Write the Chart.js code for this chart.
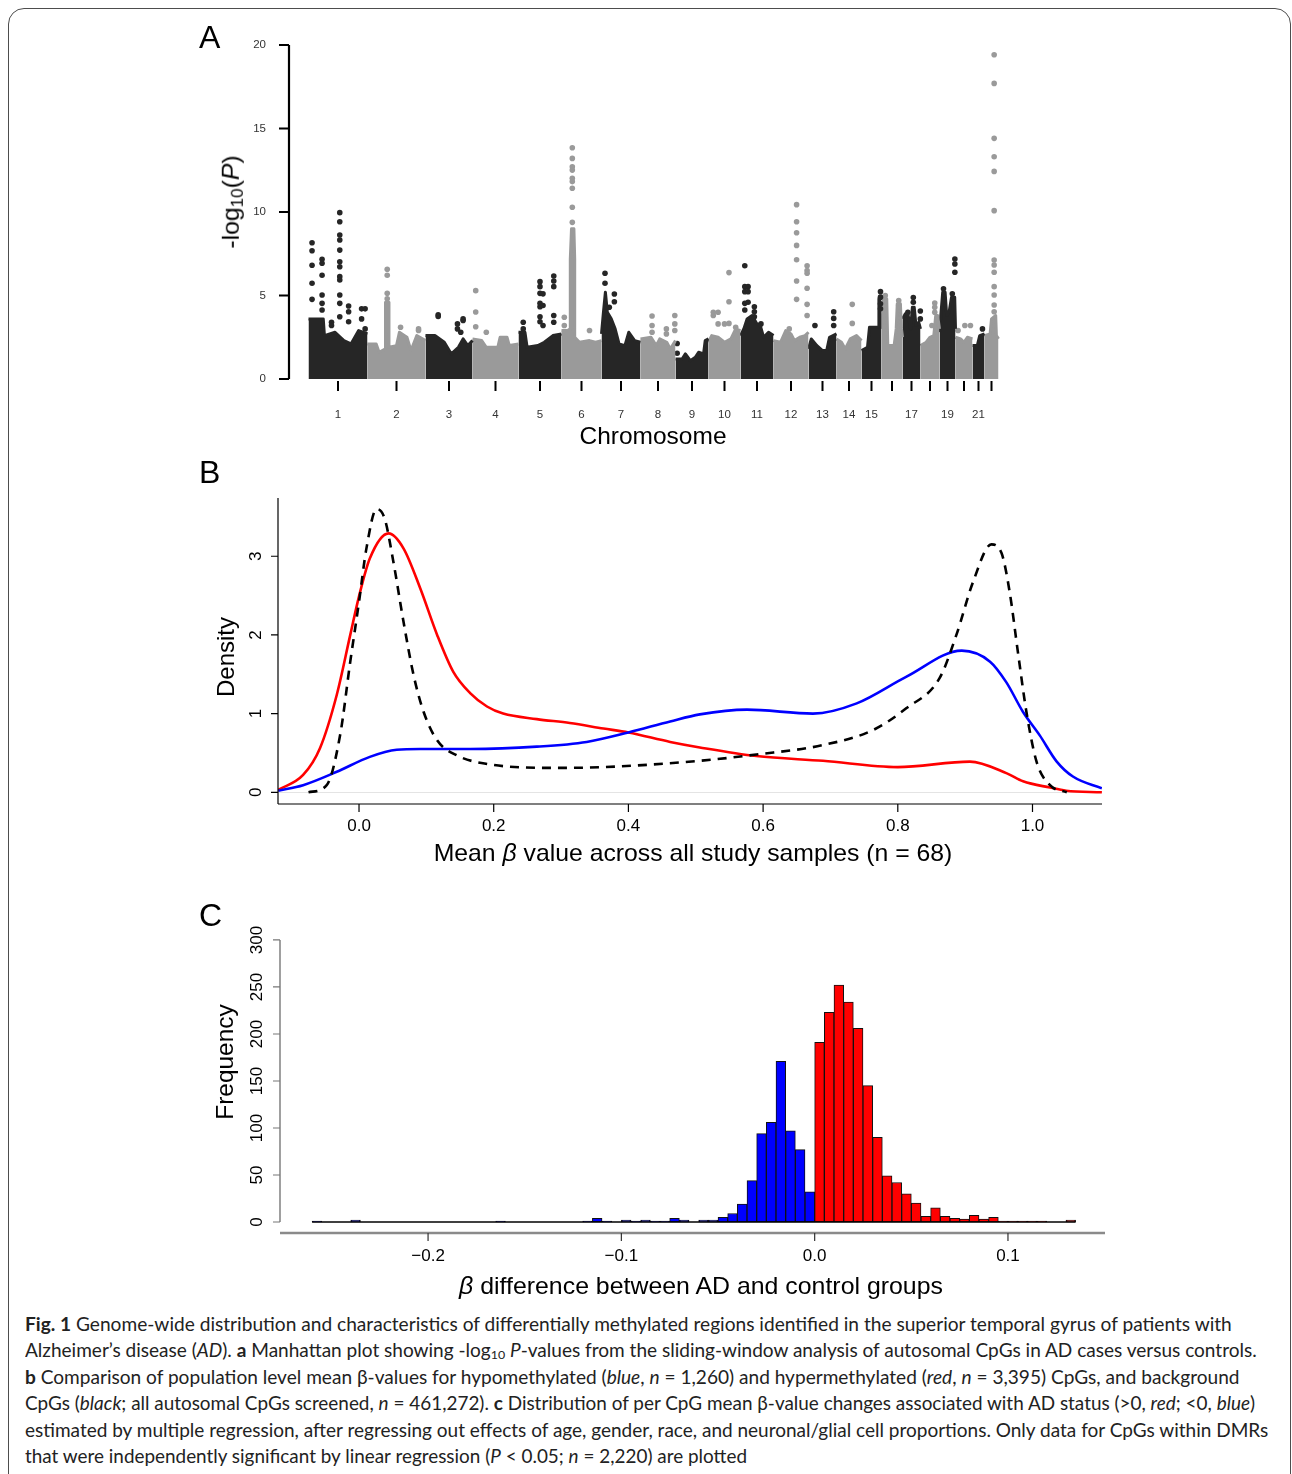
<!DOCTYPE html>
<html>
<head>
<meta charset="utf-8">
<title>Fig. 1</title>
<script src="https://cdn.jsdelivr.net/npm/chart.js@4.4.1/dist/chart.umd.min.js"></script>
<style>
  html, body { margin: 0; padding: 0; background: #fff; }
  body { position: relative; width: 1292px; height: 1474px; overflow: hidden; font-family: "Liberation Sans", Arial, sans-serif; color: #000; }
  .frame { position: absolute; left: 8px; top: 8px; width: 1283px; height: 1500px; border: 1.5px solid #4d4d4d; border-radius: 16px; box-sizing: border-box; }
  canvas { position: absolute; left: 0; }
  .tag { position: absolute; font-size: 32px; line-height: 1; }
  .title { position: absolute; white-space: nowrap; line-height: 1; font-size: 24px; }
  .title sub { font-size: 0.68em; vertical-align: -0.25em; }
  .caption-line { position: absolute; left: 25px; height: 26px; line-height: 26px; white-space: nowrap; font-family: Lato, "Liberation Sans", sans-serif; font-size: 19px; color: #222; transform-origin: left center; }
  .caption-line sub { font-size: 0.65em; vertical-align: -0.2em; line-height: 0; }
</style>
</head>
<body>
<div class="frame"></div>

<canvas id="manhattan" width="1292" height="450" style="top:0"></canvas>
<canvas id="density" width="1292" height="440" style="top:450px"></canvas>
<canvas id="histogram" width="1292" height="420" style="top:890px"></canvas>

<div class="tag" style="left:199px; top:21px">A</div>
<div class="tag" style="left:199px; top:456px">B</div>
<div class="tag" style="left:199px; top:899px">C</div>

<div class="title" data-w="93" data-rot="1" style="left:232px; top:202px">-log<sub>10</sub>(<i>P</i>)</div>
<div class="title" data-w="147" style="left:653px; top:436px">Chromosome</div>
<div class="title" data-w="80" data-rot="1" style="left:226px; top:657px">Density</div>
<div class="title" data-w="519" style="left:693px; top:853px">Mean <i>β</i> value across all study samples (n = 68)</div>
<div class="title" data-w="115" data-rot="1" style="left:225px; top:1062px">Frequency</div>
<div class="title" data-w="484" style="left:701px; top:1286px"><i>β</i> difference between AD and control groups</div>

<div class="caption-line" data-w="1207" style="top:1311px"><b>Fig. 1</b> Genome-wide distribution and characteristics of differentially methylated regions identified in the superior temporal gyrus of patients with</div>
<div class="caption-line" data-w="1232" style="top:1337px">Alzheimer’s disease (<i>AD</i>). <b>a</b> Manhattan plot showing -log<sub>10</sub> <i>P</i>-values from the sliding-window analysis of autosomal CpGs in AD cases versus controls.</div>
<div class="caption-line" data-w="1215" style="top:1364px"><b>b</b> Comparison of population level mean β-values for hypomethylated (<i>blue</i>, <i>n</i> = 1,260) and hypermethylated (<i>red</i>, <i>n</i> = 3,395) CpGs, and background</div>
<div class="caption-line" data-w="1230" style="top:1390px">CpGs (<i>black</i>; all autosomal CpGs screened, <i>n</i> = 461,272). <b>c</b> Distribution of per CpG mean β-value changes associated with AD status (&gt;0, <i>red</i>; &lt;0, <i>blue</i>)</div>
<div class="caption-line" data-w="1243" style="top:1417px">estimated by multiple regression, after regressing out effects of age, gender, race, and neuronal/glial cell proportions. Only data for CpGs within DMRs</div>
<div class="caption-line" data-w="722" style="top:1443px">that were independently significant by linear regression (<i>P</i> &lt; 0.05; <i>n</i> = 2,220) are plotted</div>

<script>
// ---- panel A: sliding-window -log10(P) by chromosome ----
const chromLabels = ['1', '2', '3', '4', '5', '6', '7', '8', '9', '10', '11', '12', '13', '14', '15', '', '17', '', '19', '', '21', ''];
// relative span of each chromosome on the x axis (number of CpG windows)
const chromWidths = [59, 58, 47, 46, 43, 40, 39, 35, 33, 32, 33, 35, 28, 25, 20, 21, 18, 19, 16, 17, 12, 14];

// upper edge of the dense cloud of windows, [fraction along chromosome, -log10 P]
const chromProfiles = [
    [[0, 3.6], [0.25, 3.6], [0.27, 2.6], [0.45, 2.8], [0.6, 2.3], [0.72, 2.1], [0.85, 2.9], [1, 2.7]],
    [[0, 2.1], [0.15, 2.1], [0.2, 1.6], [0.31, 1.8], [0.31, 4.6], [0.37, 4.6], [0.37, 1.9], [0.5, 2.0], [0.55, 2.8], [0.68, 2.5], [0.75, 1.7], [0.85, 2.6], [1, 2.3]],
    [[0, 2.6], [0.2, 2.6], [0.4, 2.2], [0.55, 1.5], [0.7, 1.9], [0.8, 2.4], [0.9, 2.0], [1, 2.3]],
    [[0, 2.4], [0.2, 2.3], [0.3, 1.9], [0.55, 1.9], [0.6, 2.5], [0.75, 2.5], [0.8, 2.0], [1, 2.1]],
    [[0, 2.8], [0.15, 2.8], [0.2, 1.9], [0.45, 2.0], [0.6, 2.2], [0.8, 2.6], [1, 2.7]],
    [[0, 2.9], [0.15, 2.9], [0.22, 3.0], [0.22, 7.2], [0.25, 9.0], [0.31, 9.0], [0.33, 7.2], [0.33, 2.5], [0.45, 2.2], [0.7, 2.3], [0.85, 2.2], [1, 2.3]],
    [[0, 2.7], [0.05, 4.0], [0.1, 5.2], [0.15, 4.0], [0.25, 3.6], [0.35, 3.0], [0.45, 2.1], [0.6, 2.0], [0.7, 2.8], [0.85, 2.3], [1, 2.2]],
    [[0, 2.4], [0.3, 2.5], [0.45, 2.0], [0.55, 2.4], [0.75, 2.2], [0.85, 1.8], [1, 2.3]],
    [[0, 1.2], [0.2, 1.2], [0.3, 1.5], [0.45, 1.1], [0.6, 1.3], [0.7, 1.6], [0.85, 1.5], [0.9, 2.3], [1, 2.4]],
    [[0, 2.2], [0.1, 2.6], [0.3, 2.5], [0.5, 2.2], [0.7, 2.4], [0.85, 3.0], [1, 2.9]],
    [[0, 2.6], [0.1, 3.0], [0.2, 3.6], [0.35, 3.8], [0.5, 3.3], [0.6, 3.2], [0.7, 2.5], [0.85, 2.8], [1, 2.6]],
    [[0, 2.3], [0.2, 2.2], [0.35, 2.9], [0.5, 2.7], [0.6, 2.3], [0.75, 2.5], [0.9, 2.6], [1, 2.8]],
    [[0, 1.8], [0.1, 2.4], [0.3, 2.0], [0.5, 1.7], [0.65, 1.7], [0.75, 2.5], [1, 2.7]],
    [[0, 2.4], [0.2, 2.2], [0.35, 1.8], [0.55, 2.4], [0.8, 2.6], [1, 2.3]],
    [[0, 1.7], [0.3, 1.9], [0.4, 3.1], [0.87, 3.1], [0.87, 4.8], [1, 4.8]],
    [[0, 3.0], [0.1, 4.8], [0.25, 4.8], [0.3, 2.0], [0.6, 2.0], [0.7, 3.0], [0.75, 4.5], [0.9, 4.5], [0.95, 3.0], [1, 2.5]],
    [[0, 3.6], [0.15, 3.9], [0.3, 3.9], [0.45, 3.0], [0.55, 4.3], [0.65, 4.3], [0.75, 3.2], [0.9, 3.4], [1, 3.0]],
    [[0, 2.0], [0.3, 2.2], [0.5, 2.5], [0.7, 2.6], [0.8, 3.8], [0.9, 3.8], [1, 3.0]],
    [[0, 2.8], [0.1, 4.0], [0.2, 5.2], [0.35, 5.2], [0.45, 3.8], [0.6, 4.0], [0.75, 4.9], [0.95, 4.9], [1, 3.0]],
    [[0, 2.5], [0.3, 2.4], [0.5, 2.2], [0.7, 2.5], [1, 2.4]],
    [[0, 2.0], [0.4, 2.0], [0.6, 2.6], [1, 2.7]],
    [[0, 2.6], [0.4, 2.7], [0.5, 3.6], [0.8, 3.8], [0.85, 2.6], [1, 2.4]],
];

// isolated windows above the cloud, [fraction along chromosome, [-log10 P, ...]]
const chromPeaks = [
    [[0.06, [8.16, 7.68, 6.81, 5.73, 4.77]], [0.23, [7.17, 6.93, 6.21, 5.03, 4.53, 4.13]], [0.39, [3.4, 3.2]],
     [0.53, [9.96, 9.42, 8.62, 8.32, 7.72, 7.02, 6.72, 6.13, 5.93, 5.03, 4.53, 3.73]], [0.68, [4.37, 4.03, 3.43]],
     [0.9, [4.2, 3.6]], [0.96, [4.2, 3.0]]],
    [[0.34, [6.57, 6.21, 5.13, 4.8]], [0.57, [3.1]], [0.88, [3.0, 2.9]]],
    [[0.27, [3.85, 3.75]], [0.68, [3.0, 3.3]], [0.75, [2.8]], [0.8, [3.5, 3.6]]],
    [[0.07, [5.29, 4.01, 3.13]], [0.3, [2.8]]],
    [[0.11, [3.4, 3.0]], [0.5, [5.83, 5.53, 5.13, 4.53, 4.33, 3.73, 3.43]], [0.57, [5.1, 4.4, 3.2]], [0.82, [6.17, 5.87, 5.53, 3.8, 3.4]]],
    [[0.07, [3.7, 3.2]], [0.27, [13.85, 13.21, 12.71, 12.51, 12.02, 11.82, 11.42, 10.28, 9.38]], [0.7, [2.9]]],
    [[0.09, [6.33, 5.73]], [0.2, [4.3]], [0.33, [5.09, 4.63]]],
    [[0.33, [3.77, 3.2, 2.8]], [0.74, [3.0, 2.7]], [0.98, [3.8, 3.3, 2.9]]],
    [[0.05, [2.13, 1.54]]],
    [[0.15, [4.0, 3.8]], [0.3, [4.0, 3.3]], [0.5, [3.3]], [0.64, [6.37, 4.63, 3.33]], [0.85, [3.1]]],
    [[0.13, [6.78, 5.53, 5.23, 4.53, 4.13]], [0.23, [5.53, 5.23, 4.6]], [0.42, [4.33, 4.03, 3.73]], [0.62, [3.3]]],
    [[0.45, [3.0]], [0.66, [10.44, 9.42, 8.76, 8.0, 7.14, 5.87, 4.77]], [0.96, [6.78, 6.5, 6.33, 5.43, 4.47, 3.8]]],
    [[0.23, [3.2]], [0.9, [4.03, 3.63, 3.2]]],
    [[0.63, [4.47, 3.33]]],
    [[0.95, [5.23, 4.9, 4.5, 4.2]]],
    [[0.18, [5.0]], [0.82, [4.7, 4.4]]],
    [[0.3, [4.0]], [0.6, [4.88, 4.6]], [0.99, [4.07, 3.6]]],
    [[0.6, [3.2]], [0.75, [4.55, 4.3, 4.0]]],
    [[0.25, [5.4]], [0.8, [5.1]], [0.96, [7.19, 6.89, 6.39]]],
    [[0.15, [2.9]], [0.55, [3.2]], [0.88, [3.2]]],
    [[0.83, [3.0]]],
    [[0.69, [19.42, 17.7, 14.41, 13.31, 12.43, 10.08, 7.13, 6.83, 6.39, 5.53, 5.03, 4.43, 4.03]]],
];
const manhattanTicks = [0, 5, 10, 15, 20];

// ---- panel B: density of mean beta, [beta, density] ----
const densityHyper = [[-0.12, 0.03], [-0.083, 0.22], [-0.058, 0.56], [-0.033, 1.24], [-0.013, 2.0], [0, 2.49], [0.016, 2.97],
    [0.044, 3.29], [0.066, 3.10], [0.091, 2.59], [0.116, 2.0], [0.14, 1.53], [0.165, 1.26], [0.19, 1.09], [0.214, 1.0],
    [0.264, 0.93], [0.313, 0.88], [0.363, 0.81], [0.4, 0.76], [0.462, 0.64], [0.506, 0.57], [0.59, 0.46], [0.689, 0.40],
    [0.8, 0.32], [0.907, 0.39], [0.962, 0.24], [0.986, 0.14], [1.026, 0.06], [1.05, 0.02], [1.103, 0.0]];
const densityHypo = [[-0.12, 0.02], [-0.083, 0.09], [-0.033, 0.26], [0.016, 0.45], [0.056, 0.54], [0.091, 0.55], [0.165, 0.55],
    [0.264, 0.58], [0.338, 0.64], [0.4, 0.76], [0.462, 0.90], [0.506, 0.99], [0.576, 1.05], [0.674, 1.0], [0.739, 1.13],
    [0.813, 1.47], [0.895, 1.80], [0.937, 1.66], [0.961, 1.40], [0.986, 1.02], [1.011, 0.72], [1.036, 0.39], [1.06, 0.20], [1.103, 0.05]];
const densityAll = [[-0.075, 0.0], [-0.048, 0.09], [-0.028, 0.73], [-0.013, 1.66], [0, 2.42], [0.011, 3.10], [0.026, 3.60],
    [0.038, 3.48], [0.051, 2.93], [0.066, 2.17], [0.081, 1.49], [0.096, 1.02], [0.116, 0.66], [0.145, 0.47], [0.19, 0.36],
    [0.289, 0.31], [0.363, 0.32], [0.506, 0.40], [0.59, 0.48], [0.689, 0.60], [0.763, 0.79], [0.813, 1.07], [0.862, 1.45],
    [0.887, 2.0], [0.912, 2.68], [0.939, 3.15], [0.954, 3.04], [0.966, 2.55], [0.979, 1.74], [0.991, 1.02], [1.006, 0.39],
    [1.026, 0.09], [1.051, 0.0]];
const densityXTicks = [0, 0.2, 0.4, 0.6, 0.8, 1.0];
const densityXLabels = ['0.0', '0.2', '0.4', '0.6', '0.8', '1.0'];
const densityYTicks = [0, 1, 2, 3];

// ---- panel C: histogram of beta differences ----
const histStart = -0.26;
const histBin = 0.005;
const histCounts = [1, 0, 0, 0, 2, 0, 0, 0, 0, 0, 0, 0, 0, 0, 0, 0, 0, 0, 0, 1, 0, 0, 0, 0, 0, 0, 0, 0,
    1, 4, 1, 0, 2, 1, 2, 1, 1, 4, 2, 0, 2, 2, 5, 9, 19, 44, 94, 106, 171, 97, 77, 32,
    191, 223, 252, 234, 206, 145, 90, 49, 42, 30, 20, 6, 15, 6, 4, 3, 7, 3, 5, 1, 1, 1, 1, 1, 0, 0, 2];
const histXTicks = [-0.2, -0.1, 0, 0.1];
const histXLabels = ['\u22120.2', '\u22120.1', '0.0', '0.1'];
const histYTicks = [0, 50, 100, 150, 200, 250, 300];

const tickFont = '"Liberation Sans", Arial, sans-serif';

// base-graphics style axes drawn from the chart's own scales
const baseAxes = {
    id: 'baseAxes',
    beforeDatasetsDraw(chart, args, opts) {
        if (!opts.zeroLine) {
            return;
        }
        const { ctx, chartArea, scales } = chart;
        const y = Math.round(scales.y.getPixelForValue(0)) + 0.5;
        ctx.save();
        ctx.strokeStyle = opts.zeroLine;
        ctx.lineWidth = 1;
        ctx.beginPath();
        ctx.moveTo(chartArea.left, y);
        ctx.lineTo(chartArea.right, y);
        ctx.stroke();
        ctx.restore();
    },
    afterDraw(chart, args, opts) {
        const { ctx, chartArea } = chart;
        ['x', 'y'].forEach((key) => {
            const axis = opts[key];
            if (!axis) {
                return;
            }
            const scale = chart.scales[key];
            const horizontal = key === 'x';
            const base = horizontal ? chartArea.bottom : chartArea.left;
            const toPixel = (v) => scale.getPixelForValue(v);
            ctx.save();
            ctx.lineCap = 'butt';

            if (axis.line) {
                ctx.strokeStyle = axis.lineColor || '#000';
                ctx.lineWidth = axis.lineWidth || 1;
                ctx.beginPath();
                if (horizontal) {
                    const from = axis.line === 'full' ? chartArea.left : toPixel(axis.line[0]);
                    const to = axis.line === 'full' ? chartArea.right : toPixel(axis.line[1]);
                    ctx.moveTo(from, base);
                    ctx.lineTo(to, base);
                } else {
                    const from = axis.line === 'full' ? chartArea.bottom : toPixel(axis.line[0]);
                    const to = axis.line === 'full' ? chartArea.top : toPixel(axis.line[1]);
                    ctx.moveTo(base, from);
                    ctx.lineTo(base, to);
                }
                ctx.stroke();
            }

            ctx.strokeStyle = axis.tickColor || '#000';
            ctx.lineWidth = axis.tickWidth || 1;
            const start = axis.tickStart || 0;
            ctx.beginPath();
            axis.ticks.forEach((v) => {
                const p = toPixel(v);
                if (horizontal) {
                    ctx.moveTo(p, base + start);
                    ctx.lineTo(p, base + start + axis.tickLen);
                } else {
                    ctx.moveTo(base - start, p);
                    ctx.lineTo(base - start - axis.tickLen, p);
                }
            });
            ctx.stroke();

            ctx.fillStyle = axis.textColor || '#000';
            ctx.font = axis.font;
            axis.ticks.forEach((v, i) => {
                const text = axis.labels ? axis.labels[i] : String(v);
                if (!text) {
                    return;
                }
                const p = toPixel(v);
                if (horizontal) {
                    ctx.textAlign = 'center';
                    ctx.textBaseline = 'middle';
                    ctx.fillText(text, p, base + axis.labelGap);
                } else if (axis.rotate) {
                    ctx.save();
                    ctx.translate(base - axis.labelGap, p);
                    ctx.rotate(-Math.PI / 2);
                    ctx.textAlign = 'center';
                    ctx.textBaseline = 'middle';
                    ctx.fillText(text, 0, 0);
                    ctx.restore();
                } else {
                    ctx.textAlign = 'right';
                    ctx.textBaseline = 'middle';
                    ctx.fillText(text, base - axis.labelGap, p);
                }
            });
            ctx.restore();
        });
    },
};
Chart.register(baseAxes);

const quiet = {
    responsive: false,
    animation: false,
    events: [],
};
const noChrome = { legend: { display: false }, tooltip: { enabled: false } };

// --- A ---
const chromStarts = [];
chromWidths.reduce((acc, w) => {
    chromStarts.push(acc);
    return acc + w;
}, 0);
const chromMids = chromWidths.map((w, i) => chromStarts[i] + w / 2);
const darkDot = '#262626';
const lightDot = '#9a9a9a';

const manhattanSets = [];
chromWidths.forEach((w, i) => {
    const start = chromStarts[i];
    const colour = i % 2 === 0 ? darkDot : lightDot;
    manhattanSets.push({
        data: chromProfiles[i].map(([f, v]) => ({ x: start + f * w, y: v })),
        showLine: true,
        fill: 'origin',
        backgroundColor: colour,
        borderColor: colour,
        borderWidth: 3,
        borderJoinStyle: 'round',
        pointRadius: 0,
        tension: 0,
    });
    const dots = [];
    chromPeaks[i].forEach(([f, values]) => {
        values.forEach((v) => dots.push({ x: start + f * w, y: v }));
    });
    manhattanSets.push({
        data: dots,
        showLine: false,
        pointRadius: 2.8,
        pointBackgroundColor: colour,
        pointBorderWidth: 0,
        clip: false,
    });
});

new Chart(document.getElementById('manhattan'), {
    type: 'scatter',
    data: { datasets: manhattanSets },
    options: {
        ...quiet,
        layout: { padding: { left: 289, right: 282, top: 45, bottom: 71 } },
        scales: {
            x: { type: 'linear', display: false, min: -19.5, max: 701.5 },
            y: { type: 'linear', display: false, min: 0, max: 20 },
        },
        plugins: {
            ...noChrome,
            baseAxes: {
                y: {
                    ticks: manhattanTicks, line: [0, 20], lineWidth: 2.2, tickLen: 10, tickWidth: 2,
                    labelGap: 23, font: `11.5px ${tickFont}`, textColor: '#333',
                },
                x: {
                    ticks: chromMids, labels: chromLabels, line: null, tickStart: 2, tickLen: 10, tickWidth: 2,
                    labelGap: 36, font: `11.5px ${tickFont}`, textColor: '#333',
                },
            },
        },
    },
});

// --- B ---
const toPoints = (rows) => rows.map(([x, y]) => ({ x, y }));
const curve = {
    showLine: true,
    fill: false,
    pointRadius: 0,
    borderWidth: 2.6,
    cubicInterpolationMode: 'monotone',
};

new Chart(document.getElementById('density'), {
    type: 'scatter',
    data: {
        datasets: [
            { ...curve, label: 'All CpGs', data: toPoints(densityAll), borderColor: '#000', borderDash: [9, 7], order: 0 },
            { ...curve, label: 'Hypomethylated', data: toPoints(densityHypo), borderColor: '#0000ff', order: 1 },
            { ...curve, label: 'Hypermethylated', data: toPoints(densityHyper), borderColor: '#ff0000', order: 2 },
        ],
    },
    options: {
        ...quiet,
        layout: { padding: { left: 278, right: 190, top: 48, bottom: 86 } },
        scales: {
            x: { type: 'linear', display: false, min: -0.1203, max: 1.1032 },
            y: { type: 'linear', display: false, min: -0.149, max: 3.74 },
        },
        plugins: {
            ...noChrome,
            baseAxes: {
                zeroLine: '#e4e4e4',
                y: {
                    ticks: densityYTicks, line: 'full', lineWidth: 1.2, tickLen: 7, tickWidth: 1.2,
                    labelGap: 22, rotate: true, font: `17px ${tickFont}`,
                },
                x: {
                    ticks: densityXTicks, labels: densityXLabels, line: 'full', lineWidth: 1.2, tickLen: 8, tickWidth: 1.2,
                    labelGap: 22, font: `17px ${tickFont}`,
                },
            },
        },
    },
});

// --- C ---
const histBars = histCounts.map((count, i) => ({ x: histStart + (i + 0.5) * histBin, y: count }));

new Chart(document.getElementById('histogram'), {
    type: 'bar',
    data: {
        datasets: [
            {
                type: 'line',
                data: [{ x: histStart, y: 0 }, { x: histStart + histCounts.length * histBin, y: 0 }],
                borderColor: '#000',
                borderWidth: 1.6,
                pointRadius: 0,
                order: 0,
            },
            {
                data: histBars,
                backgroundColor: histBars.map((b) => (b.x < 0 ? '#0000ff' : '#ff0000')),
                borderColor: '#111',
                borderWidth: 1,
                borderSkipped: false,
                barPercentage: 1,
                categoryPercentage: 1,
                order: 1,
            },
        ],
    },
    options: {
        ...quiet,
        layout: { padding: { left: 280, right: 187, top: 40, bottom: 77 } },
        scales: {
            x: { type: 'linear', display: false, offset: false, min: -0.2766, max: 0.1502 },
            y: { type: 'linear', display: false, min: -11.7, max: 310.6 },
        },
        plugins: {
            ...noChrome,
            baseAxes: {
                y: {
                    ticks: histYTicks, line: [0, 300], lineColor: '#777', lineWidth: 1.4, tickColor: '#777',
                    tickLen: 7, tickWidth: 1.2, labelGap: 23, rotate: true, font: `17px ${tickFont}`,
                },
                x: {
                    ticks: histXTicks, labels: histXLabels, line: 'full', lineColor: '#8a8a8a', lineWidth: 2.5,
                    tickColor: '#333', tickLen: 8, tickWidth: 1.2, labelGap: 23, font: `17px ${tickFont}`,
                },
            },
        },
    },
});

// stretch titles and caption lines to their set lengths
const fitText = () => {
    document.querySelectorAll('[data-w]').forEach((el) => {
        const k = Number(el.dataset.w) / el.offsetWidth;
        if (el.classList.contains('caption-line')) {
            el.style.transform = `scaleX(${k})`;
        } else if (el.dataset.rot) {
            el.style.transform = `translate(-50%, -50%) rotate(-90deg) scaleX(${k})`;
        } else {
            el.style.transform = `translate(-50%, -50%) scaleX(${k})`;
        }
    });
};
fitText();
if (document.fonts && document.fonts.ready) {
    document.fonts.ready.then(fitText);
}
</script>
</body>
</html>
